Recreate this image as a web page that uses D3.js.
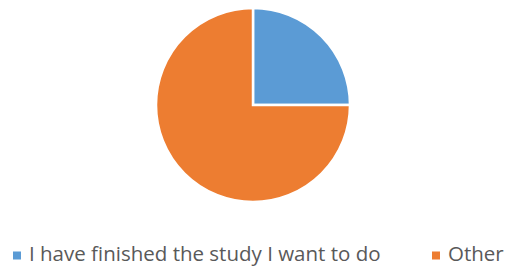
<html>
<head>
    <script src="https://d3js.org/d3.v7.min.js"></script>
    <style>
        html, body {
            margin: 0px;
            padding: 0px;
            background-color: white;
        }
        text {
            font-family: "Open Sans", sans-serif;
            fill: #595959;
        }
    </style>
</head>
<body>
    <div id="chart"></div>
    <script>
        const categories = ["I have finished the study I want to do", "Other"];
        const values = [25, 75];
        const colors = ["#5b9bd5", "#ed7d31"];

        const width = 506, height = 266;
        const cx = 253, cy = 105, radius = 97;

        const svg = d3.select("#chart")
            .append("svg")
                .attr("width", width)
                .attr("height", height);

        const data = categories.map((c, i) => ({ name: c, value: values[i], color: colors[i] }));

        const pie = d3.pie()
            .sort(null)
            .value(d => d.value);

        const arc = d3.arc()
            .innerRadius(0)
            .outerRadius(radius);

        svg.append("g")
            .attr("transform", "translate(" + cx + "," + cy + ")")
            .selectAll("path")
            .data(pie(data))
            .enter()
            .append("path")
                .attr("d", arc)
                .attr("fill", d => d.data.color)
                .attr("stroke", "white")
                .attr("stroke-width", 2.5)
                .attr("stroke-linejoin", "miter");

        // legend
        const legendX = [13, 432];
        const legend = svg.append("g")
            .selectAll("g")
            .data(data)
            .enter()
            .append("g")
                .attr("transform", (d, i) => "translate(" + legendX[i] + ",0)");

        legend.append("rect")
            .attr("x", 0)
            .attr("y", 251.5)
            .attr("width", 8)
            .attr("height", 8)
            .attr("fill", d => d.color);

        legend.append("text")
            .attr("x", 16)
            .attr("y", 260.5)
            .attr("font-size", 20.5)
            .text(d => d.name);
    </script>
</body>
</html>
